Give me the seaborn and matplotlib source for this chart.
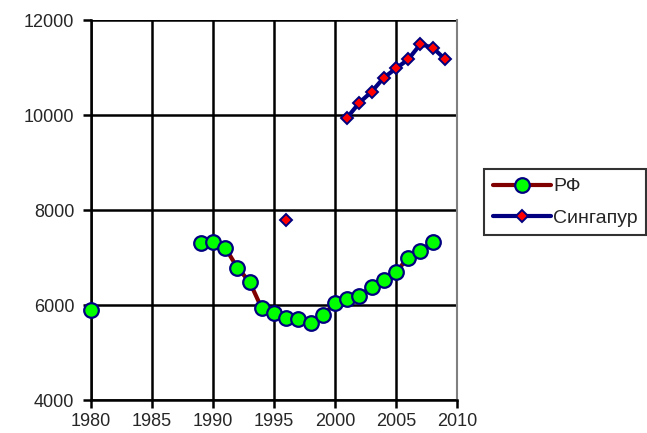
import pandas as pd
import numpy as np
import matplotlib
matplotlib.use("Agg")
import matplotlib.pyplot as plt
from matplotlib.lines import Line2D
import seaborn as sns

# ---------data-----------------------------------------------------------------
rf_years = [1980, 1989, 1990, 1991, 1992, 1993, 1994, 1995, 1996, 1997, 1998,
            1999, 2000, 2001, 2002, 2003, 2004, 2005, 2006, 2007, 2008]
rf_values = [5900, 7310, 7330, 7210, 6785, 6490, 5930, 5840, 5730, 5700, 5615,
             5790, 6035, 6130, 6190, 6385, 6525, 6690, 7000, 7140, 7330]
rf_segment = [0] + [1] * 20

sg_years = [1996, 2001, 2002, 2003, 2004, 2005, 2006, 2007, 2008, 2009]
sg_values = [7800, 9945, 10260, 10490, 10785, 10980, 11170, 11490, 11420, 11180]
sg_segment = [0] + [1] * 9

labels = ['РФ', 'Сингапур']

rf = pd.DataFrame({'year': rf_years, 'value': rf_values, 'seg': rf_segment})
sg = pd.DataFrame({'year': sg_years, 'value': sg_values, 'seg': sg_segment})

# ---------plot-----------------------------------------------------------------
sns.set_style('white')
plt.rcParams['font.family'] = ['Liberation Sans', 'DejaVu Sans']

fig = plt.figure(figsize=(6.47, 4.33), dpi=100)
ax = fig.add_axes([0.1406, 0.0762, 0.5657, 0.8776])

sns.lineplot(data=rf, x='year', y='value', units='seg', estimator=None, ax=ax,
             color='#800000', lw=3, marker='o', markersize=10.5,
             markerfacecolor='#00ff00', markeredgecolor='#000080',
             markeredgewidth=1.6, legend=False, zorder=3, clip_on=False)
sns.lineplot(data=sg, x='year', y='value', units='seg', estimator=None, ax=ax,
             color='#000080', lw=3, marker='D', markersize=6.5,
             markerfacecolor='#ff0000', markeredgecolor='#000080',
             markeredgewidth=1.4, legend=False, zorder=3, clip_on=False)

ax.set_xlim(1980, 2010)
ax.set_ylim(4000, 12000)
ax.set_xticks(range(1980, 2011, 5))
ax.set_yticks(range(4000, 12001, 2000))
ax.grid(True, color='black', lw=1.8)
ax.set_axisbelow(True)
ax.set_xlabel('')
ax.set_ylabel('')

ax.spines['top'].set_visible(False)
ax.spines['right'].set_color('#808080')
ax.spines['right'].set_linewidth(1.5)
for s in ['left', 'bottom']:
    ax.spines[s].set_color('black')
    ax.spines[s].set_linewidth(1.8)

ax.tick_params(axis='both', direction='out', length=6, width=1.8,
               color='black', labelsize=13, bottom=True, left=True)
ax.tick_params(axis='y', pad=6)
ax.tick_params(axis='x', pad=3)

handles = [
    Line2D([], [], color='#800000', lw=3, marker='o', markersize=10.5,
           markerfacecolor='#00ff00', markeredgecolor='#000080', markeredgewidth=1.6),
    Line2D([], [], color='#000080', lw=3, marker='D', markersize=6.5,
           markerfacecolor='#ff0000', markeredgecolor='#000080', markeredgewidth=1.4),
]
leg = fig.legend(handles, labels, loc='center left', bbox_to_anchor=(0.748, 0.533),
                 fontsize=14, frameon=True, fancybox=False, handlelength=3.0,
                 handletextpad=0.1, borderpad=0.45, labelspacing=0.7,
                 borderaxespad=0)
leg.get_frame().set_edgecolor('black')
leg.get_frame().set_linewidth(1.5)

fig.savefig('out.png', dpi=100)
